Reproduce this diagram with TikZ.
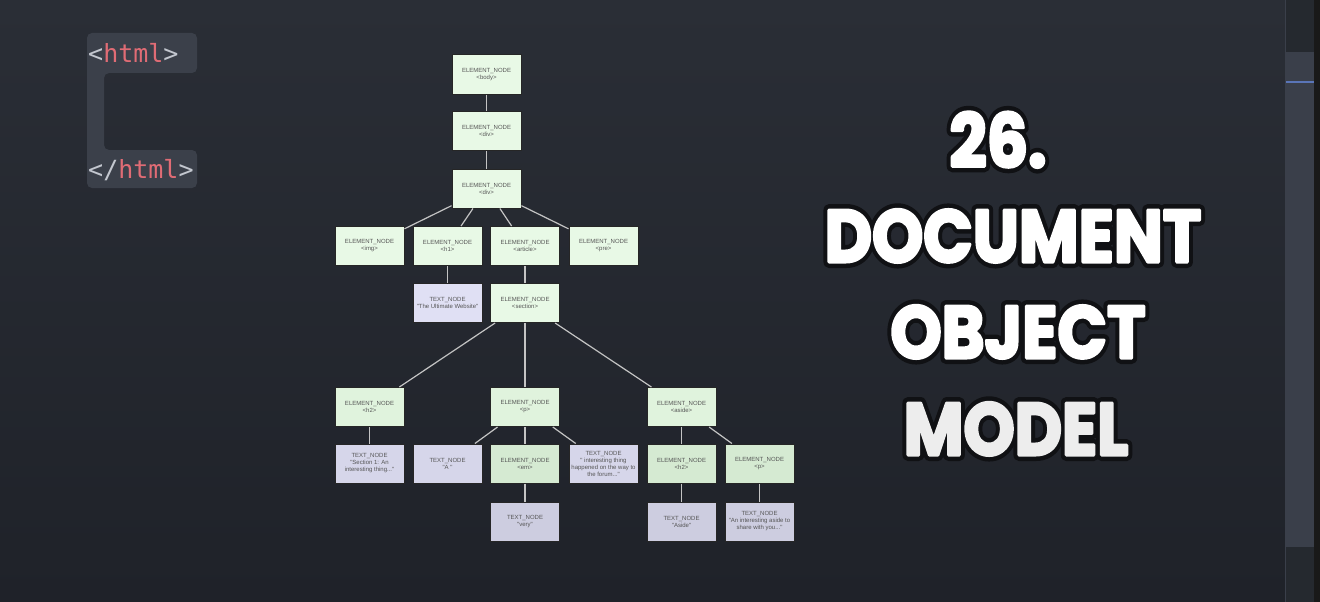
\documentclass[tikz,border=0pt]{standalone}
\usepackage{fontspec}
\newfontfamily\nodefont{Liberation Sans}
\newfontfamily\codefont{DejaVu Sans Mono}
\newfontfamily\titlefont{Poppins}
\definecolor{bgtop}{HTML}{2A2E36}
\definecolor{bgbot}{HTML}{1F2229}
\definecolor{panel}{HTML}{25292F}
\definecolor{thumb}{HTML}{3A3F4A}
\definecolor{accent}{HTML}{5A75B8}
\definecolor{iconbox}{HTML}{3B404A}
\definecolor{tagcol}{HTML}{C3C7CF}
\definecolor{tagred}{HTML}{E06C75}
\definecolor{elgreen}{HTML}{E8F9E6}
\definecolor{elgreenb}{HTML}{E0F3DD}
\definecolor{elgreenc}{HTML}{D5EAD2}
\definecolor{txlav}{HTML}{E0E0F4}
\definecolor{txlavb}{HTML}{D6D6EA}
\definecolor{txlavc}{HTML}{CDCDE0}
\definecolor{nodetext}{HTML}{555555}
\definecolor{linkgray}{HTML}{C4C4C4}
\definecolor{outline}{HTML}{101114}
% stroked glyphs: #1 width, #2 stroke rgb, #3 text
\newcommand{\strokedtitle}[3]{\special{pdf:literal direct q 1 j 1 J #2 RG #1 w 2 Tr}%
  \scalebox{0.88}[1]{#3}\special{pdf:literal direct Q}}
\tikzset{
  elnode/.style={draw=black!85, line width=1pt, fill=elgreen, minimum width=69pt,
    minimum height=39pt, inner sep=1pt, align=center, text=nodetext,
    font=\nodefont\fontsize{6}{7}\selectfont},
  txnode/.style={elnode, fill=txlav},
  link/.style={draw=linkgray, line width=1.2pt},
  codetag/.style={inner sep=0pt, anchor=base west, font=\codefont\fontsize{25}{25}\selectfont},
  titleline/.style={inner sep=0pt, anchor=base, text=white,
    font=\titlefont\bfseries\fontsize{74}{74}\selectfont},
  titlehalo/.style={titleline, text=outline}
}
\begin{document}
\begin{tikzpicture}[x=1pt,y=-1pt]
  \useasboundingbox (0,0) rectangle (1320,602);
  \shade[top color=bgtop, bottom color=bgbot] (0,0) rectangle (1285,602);
  % editor scrollbar
  \fill[panel] (1285,0) rectangle (1314,602);
  \fill[thumb] (1286,52) rectangle (1314,547);
  \fill[accent] (1286,81) rectangle (1314,83);
  \draw[thumb, line width=1pt] (1285,0) -- (1285,602);
  \fill[black!90] (1314,0) rectangle (1320,602);
  % html icon
  \fill[iconbox, rounded corners=5pt] (87,33) -- (197,33) -- (197,73) -- (104,73)
    -- (104,150) -- (197,150) -- (197,188) -- (87,188) -- cycle;
  \node[codetag] (opentag) at (88,63) {\color{tagcol}<\color{tagred}html\color{tagcol}>};
  \node[codetag] (closetag) at (88,178) {\color{tagcol}</\color{tagred}html\color{tagcol}>};
  % tree
  \node[elnode] (body) at (486.5,74.5) {ELEMENT\_NODE\\<body>};
  \node[elnode] (div1) at (486.5,131) {ELEMENT\_NODE\\<div>};
  \node[elnode] (div2) at (486.5,188.5) {ELEMENT\_NODE\\<div>};
  \node[elnode] (img) at (369.5,246) {ELEMENT\_NODE\\<img>};
  \node[elnode] (h1) at (447.5,246) {ELEMENT\_NODE\\<h1>};
  \node[elnode] (article) at (525,246) {ELEMENT\_NODE\\<article>};
  \node[elnode] (pre) at (603.5,246) {ELEMENT\_NODE\\<pre>};
  \node[txnode] (tweb) at (447.5,303) {TEXT\_NODE\\"The Ultimate Website"};
  \node[elnode] (section) at (525,303) {ELEMENT\_NODE\\<section>};
  \node[elnode, fill=elgreenb] (h2a) at (369.5,407) {ELEMENT\_NODE\\<h2>};
  \node[elnode, fill=elgreenb] (p1) at (525,407) {ELEMENT\_NODE\\<p>};
  \node[elnode, fill=elgreenb] (aside) at (681.5,407) {ELEMENT\_NODE\\<aside>};
  \node[txnode, fill=txlavb] (tsec) at (369.5,463.5) {TEXT\_NODE\\"Section 1: An\\interesting thing..."};
  \node[txnode, fill=txlavb] (ta) at (447.5,463.5) {TEXT\_NODE\\"A "};
  \node[elnode, fill=elgreenc] (em) at (525,463.5) {ELEMENT\_NODE\\<em>};
  \node[txnode, fill=txlavb] (tforum) at (603.5,463.5) {TEXT\_NODE\\" interesting thing\\happened on the way to\\the forum..."};
  \node[elnode, fill=elgreenc] (h2b) at (681.5,463.5) {ELEMENT\_NODE\\<h2>};
  \node[elnode, fill=elgreenc] (p2) at (759.5,463.5) {ELEMENT\_NODE\\<p>};
  \node[txnode, fill=txlavc] (tvery) at (525,521.5) {TEXT\_NODE\\"very"};
  \node[txnode, fill=txlavc] (taside) at (681.5,521.5) {TEXT\_NODE\\"Aside"};
  \node[txnode, fill=txlavc] (tshare) at (759.5,521.5) {TEXT\_NODE\\"An interesting aside to\\share with you..."};
  \foreach \a/\b in {body/div1, div1/div2, div2/img, div2/h1, div2/article, div2/pre,
      h1/tweb, article/section, section/h2a, section/p1, section/aside, h2a/tsec,
      p1/ta, p1/em, p1/tforum, em/tvery, aside/h2b, aside/p2, h2b/taside, p2/tshare}
    \draw[link] (\a) -- (\b);
  % title: dark halo first, white letters on top
  \foreach \n/\x/\y/\t in {numhalo/998/167/26., dochalo/1013/262/DOCUMENT,
      objhalo/1018/358/OBJECT, modelhalo/1016/455/MODEL}
    \node[titlehalo] (\n) at (\x,\y) {\strokedtitle{12}{0.063 0.067 0.078}{\t}};
  \node[titleline] (num) at (998,167) {\strokedtitle{3}{1 1 1}{26.}};
  \node[titleline] (doc) at (1013,262) {\strokedtitle{3}{1 1 1}{DOCUMENT}};
  \node[titleline] (obj) at (1018,358) {\strokedtitle{3}{1 1 1}{OBJECT}};
  \node[titleline, text=black!7] (model) at (1016,455) {\strokedtitle{3}{0.93 0.93 0.93}{MODEL}};
\end{tikzpicture}
\end{document}
